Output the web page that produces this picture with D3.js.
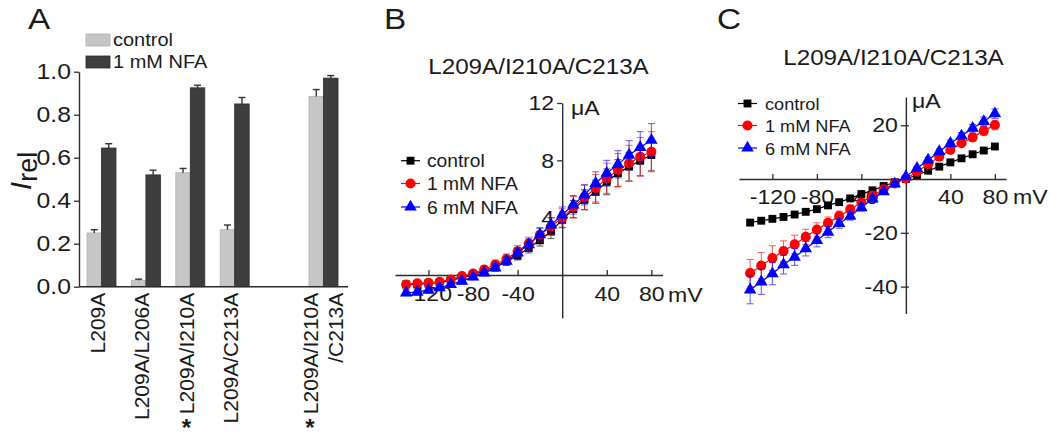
<!DOCTYPE html>
<html><head><meta charset="utf-8">
<script src="https://cdn.jsdelivr.net/npm/d3@7"></script>
<style>
body{margin:0;background:#fff}
svg{display:block}
text{font-family:"Liberation Sans",Arial,Helvetica,sans-serif;fill:#1a1a1a}
</style>
</head><body>
<svg id="chart" width="1050" height="441"></svg>
<script>
// ---------- Panel A data ----------
const mutants = ["L209A", "L209A/L206A", "L209A/I210A", "L209A/C213A", "L209A/I210A/C213A"];
const mutantLabels = [["L209A"], ["L209A/L206A"], ["L209A/I210A"], ["L209A/C213A"], ["L209A/I210A", "/C213A"]];
const significant = [false, false, true, false, true];
const barSeries = ["control", "1 mM NFA"];
const controlRel = [0.25, 0.03, 0.53, 0.265, 0.885];
const controlErr = [0.015, 0.005, 0.02, 0.022, 0.032];
const nfaRel = [0.645, 0.52, 0.925, 0.85, 0.97];
const nfaErr = [0.02, 0.022, 0.012, 0.03, 0.012];
const relTicks = [0.0, 0.2, 0.4, 0.6, 0.8, 1.0];

// ---------- Panels B, C data ----------
const voltages = [-140, -130, -120, -110, -100, -90, -80, -70, -60, -50, -40, -30, -20, -10, 0, 10, 20, 30, 40, 50, 60, 70, 80];
const ivSeries = ["control", "1 mM NFA", "6 mM NFA"];
const mvTicks = [-120, -80, -40, 40, 80];
const title = "L209A/I210A/C213A";

const ctrlB  = [-0.66, -0.66, -0.59, -0.54, -0.36, -0.2, 0.03, 0.26, 0.61, 0.96, 1.35, 1.89, 2.42, 3.04, 3.85, 4.6, 5.24, 5.8, 6.5, 7.1, 7.56, 7.97, 8.37];
const nfa1B  = [-0.66, -0.58, -0.54, -0.47, -0.31, -0.08, 0.1, 0.38, 0.73, 1.12, 1.65, 2.19, 2.81, 3.39, 3.97, 4.73, 5.43, 6.05, 6.75, 7.33, 7.8, 8.25, 8.6];
const nfa6B  = [-1.24, -1.19, -1.06, -0.89, -0.66, -0.43, -0.13, 0.15, 0.5, 0.96, 1.54, 2.12, 2.81, 3.5, 4.2, 4.9, 5.59, 6.4, 7.1, 7.72, 8.37, 8.9, 9.41];
const ctrlBErr = [0.15, 0.15, 0.15, 0.15, 0.15, 0.15, 0.15, 0.2, 0.2, 0.25, 0.3, 0.35, 0.4, 0.5, 0.55, 0.6, 0.7, 0.8, 0.9, 0.95, 1.0, 1.05, 1.1];
const nfa1BErr = [0.2, 0.2, 0.2, 0.2, 0.2, 0.2, 0.2, 0.25, 0.3, 0.35, 0.4, 0.45, 0.5, 0.6, 0.65, 0.75, 0.85, 0.95, 1.05, 1.15, 1.25, 1.35, 1.4];
const nfa6BErr = [0.2, 0.2, 0.2, 0.2, 0.2, 0.2, 0.2, 0.2, 0.25, 0.3, 0.35, 0.4, 0.45, 0.5, 0.55, 0.65, 0.7, 0.8, 0.9, 0.95, 1.0, 1.1, 1.15];
const yTicksB = [4, 8, 12];

const ctrlC  = [-16.2, -15.5, -14.8, -14.1, -13.2, -12.2, -11.2, -9.8, -8.6, -7.2, -5.6, -4.2, -2.6, -1.2, 0, 1.5, 3.1, 4.6, 6.2, 7.7, 9.2, 10.6, 12.1];
const nfa1C  = [-35, -32.2, -29.4, -26.8, -24.3, -21.5, -18.8, -16.3, -13.8, -11.3, -8.7, -6.1, -3.8, -1.6, 0.2, 2.7, 5.5, 8.3, 10.8, 13.3, 15.5, 17.9, 20.1];
const nfa6C  = [-41.2, -38.2, -35.2, -31.8, -29, -25.9, -22.8, -19.7, -16.5, -13.8, -10.6, -7.4, -4.7, -1.8, 0.9, 4.0, 7.1, 10.2, 13.3, 16.0, 18.9, 21.4, 24.3];
const ctrlCErr = [0.6, 0.6, 0.6, 0.5, 0.5, 0.5, 0.5, 0.4, 0.4, 0.4, 0.4, 0.3, 0.3, 0.3, 0.3, 0.3, 0.3, 0.4, 0.4, 0.4, 0.5, 0.5, 0.6];
const nfa1CErr = [5.1, 4.9, 4.6, 3.8, 3.4, 2.8, 2.5, 2.2, 1.9, 1.6, 1.3, 1.0, 0.8, 0.6, 0.4, 0.6, 0.8, 1.0, 1.1, 1.2, 1.4, 1.6, 1.8];
const nfa6CErr = [5.2, 4.7, 4.1, 3.5, 3.1, 2.7, 2.4, 2.1, 1.8, 1.5, 1.3, 1.0, 0.8, 0.6, 0.5, 0.7, 0.9, 1.0, 1.2, 1.3, 1.4, 1.6, 1.75];
const yTicksC = [-40, -20, 20];

// ---------- styles ----------
const SX = 1.1;
const barColors = {"control": "#c6c6c6", "1 mM NFA": "#3e3e3e"};
const barStroke = {"control": "#b0b0b0", "1 mM NFA": "#2a2a2a"};
const ivColors = {"control": "#000000", "1 mM NFA": "#ff0000", "6 mM NFA": "#0000ff"};
const ivSymbols = {"control": d3.symbolSquare, "1 mM NFA": d3.symbolCircle, "6 mM NFA": d3.symbolTriangle};
const ivSizes = {"control": 62, "1 mM NFA": 80, "6 mM NFA": 68};
const axisColor = "#2b2b2b";

const svg = d3.select("#chart");

function txt(g, x, y, s, size, anchor = "start", sx = SX) {
  return g.append("text")
    .attr("transform", `translate(${x},${y}) scale(${sx},1)`)
    .attr("font-size", size)
    .attr("text-anchor", anchor)
    .text(s);
}
function styleAxis(ag, size) {
  ag.attr("font-family", null).attr("font-size", null).attr("color", axisColor);
  ag.select(".domain").attr("stroke-width", 1.4);
  ag.selectAll(".tick line").attr("stroke-width", 1.3);
  ag.selectAll(".tick text").attr("font-size", size).attr("fill", "#1a1a1a").each(function () {
    const t = d3.select(this);
    const x = +t.attr("x") || 0, y = +t.attr("y") || 0;
    t.attr("x", 0).attr("y", 0).attr("transform", `translate(${x},${y}) scale(${SX},1)`);
  });
}

// ================= Panel A =================
const gA = svg.append("g");
txt(gA, 28, 29, "A", 29, "start", 1.15);

const slots = [...mutants.slice(0, 4), "__gap__", mutants[4]];
const xA = d3.scaleBand().domain(slots).range([87, 338]).paddingInner(0.347).paddingOuter(0);
const xSub = d3.scaleBand().domain(barSeries).range([0, xA.bandwidth()]);
const yA = d3.scaleLinear().domain([0, 1]).range([286.7, 71.7]);
const axLeftX = 79;

// legend
const legA = [[barSeries[0], 46], [barSeries[1], 68]];
legA.forEach(([s, yb]) => {
  gA.append("rect").attr("x", 86).attr("y", yb - 12).attr("width", 24).attr("height", 12)
    .attr("fill", barColors[s]).attr("stroke", barStroke[s]).attr("stroke-width", 0.8);
  txt(gA, 113, yb, s, 18.5, "start", 1.08);
});

// y axis
const ayA = gA.append("g").attr("transform", `translate(${axLeftX},0)`)
  .call(d3.axisLeft(yA).tickValues(relTicks).tickFormat(d3.format(".1f")).tickSize(5).tickSizeOuter(0).tickPadding(3));
styleAxis(ayA, 22.5);

// bars
const barData = [];
mutants.forEach((m, i) => {
  barData.push({m, s: barSeries[0], v: controlRel[i], e: controlErr[i]});
  barData.push({m, s: barSeries[1], v: nfaRel[i], e: nfaErr[i]});
});
gA.selectAll("rect.bar").data(barData).enter().append("rect").attr("class", "bar")
  .attr("x", d => xA(d.m) + xSub(d.s))
  .attr("y", d => yA(d.v))
  .attr("width", xSub.bandwidth())
  .attr("height", d => yA(0) - yA(d.v))
  .attr("fill", d => barColors[d.s])
  .attr("stroke", d => barStroke[d.s]).attr("stroke-width", 0.8);
// error bars (upper only)
const eA = gA.selectAll("g.err").data(barData).enter().append("g").attr("class", "err")
  .attr("stroke", "#333").attr("stroke-width", 1.4);
eA.append("line")
  .attr("x1", d => xA(d.m) + xSub(d.s) + xSub.bandwidth() / 2)
  .attr("x2", d => xA(d.m) + xSub(d.s) + xSub.bandwidth() / 2)
  .attr("y1", d => yA(d.v)).attr("y2", d => yA(d.v + d.e));
eA.append("line")
  .attr("x1", d => xA(d.m) + xSub(d.s) + xSub.bandwidth() / 2 - 3.5)
  .attr("x2", d => xA(d.m) + xSub(d.s) + xSub.bandwidth() / 2 + 3.5)
  .attr("y1", d => yA(d.v + d.e)).attr("y2", d => yA(d.v + d.e));

// x baseline
gA.append("line").attr("x1", axLeftX).attr("x2", xA.range()[1] + 10)
  .attr("y1", yA(0)).attr("y2", yA(0)).attr("stroke", axisColor).attr("stroke-width", 1.4);

// rotated category labels
mutants.forEach((m, i) => {
  const cx = xA(m) + xA.bandwidth() / 2;
  const lines = mutantLabels[i];
  const n = lines.length;
  lines.forEach((ln, j) => {
    const bx = cx + 3.5 + (j - (n - 1) / 2) * 25 + (n - 1) * 3;
    gA.append("text").attr("transform", `translate(${bx},${yA(0) + 6}) rotate(-90)`)
      .attr("font-size", 21).attr("text-anchor", "end").text(ln);
  });
  if (significant[i]) {
    const bx = cx + 3.5 + (0 - (n - 1) / 2) * 25 + (n - 1) * 3;
    gA.append("text").attr("x", bx - 7.5).attr("y", 436).attr("font-size", 24)
      .attr("font-weight", "bold").attr("text-anchor", "middle").text("*");
  }
});

// y label I_rel
const yl = gA.append("text").attr("transform", "translate(31,171) rotate(-90)").attr("text-anchor", "middle");
yl.append("tspan").attr("font-size", 30).attr("font-style", "italic").text("I");
yl.append("tspan").attr("font-size", 27).attr("dy", 6).text("rel");

// ================= IV panels =================
function ivPanel(cfg) {
  const g = svg.append("g");
  txt(g, cfg.letterX, 29, cfg.letter, 29, "start", 1.15);
  txt(g, cfg.titleX, cfg.titleY, title, 22, "middle");
  const x = d3.scaleLinear().domain(cfg.xDom).range(cfg.xRange);
  const y = d3.scaleLinear().domain(cfg.yDom).range(cfg.yRange);

  const ax = g.append("g").attr("transform", `translate(0,${y(0)})`)
    .call(d3.axisBottom(x).tickValues(mvTicks).tickFormat(d3.format("d")).tickSize(-5).tickSizeOuter(0).tickPadding(cfg.xPad));
  styleAxis(ax, 21);
  ax.selectAll(".tick text").each(function () {
    const t = d3.select(this); t.text(t.text().replace("−", "-"));
  });
  const ay = g.append("g").attr("transform", `translate(${x(0)},0)`)
    .call(d3.axisLeft(y).tickValues(cfg.yTicks).tickFormat(d3.format("d")).tickSize(5).tickSizeOuter(0).tickPadding(3));
  styleAxis(ay, 21);
  ay.selectAll(".tick text").each(function () {
    const t = d3.select(this); t.text(t.text().replace("−", "-"));
  });
  ay.selectAll(".tick line").attr("x2", -5).attr("x1", cfg.crossTick ? 3 : 0);

  txt(g, cfg.uaX, cfg.uaY, "\u03bcA", 21);
  txt(g, cfg.mvX, y(0) + cfg.xPad + 15, "mV", 21);

  // series
  cfg.series.forEach((s, k) => {
    const name = ivSeries[k];
    const col = ivColors[name];
    const pts = voltages.map((v, i) => ({v, m: s.vals[i], e: s.err[i]}));
    const sg = g.append("g");
    // error bars
    const eg = sg.append("g").attr("stroke", col).attr("stroke-width", 1).attr("opacity", 0.65);
    pts.forEach(p => {
      const px = x(p.v);
      eg.append("line").attr("x1", px).attr("x2", px).attr("y1", y(p.m - p.e)).attr("y2", y(p.m + p.e));
      [p.m - p.e, p.m + p.e].forEach(yy => eg.append("line")
        .attr("x1", px - 3.5).attr("x2", px + 3.5).attr("y1", y(yy)).attr("y2", y(yy)));
    });
    sg.append("path").datum(pts)
      .attr("d", d3.line().x(p => x(p.v)).y(p => y(p.m)))
      .attr("fill", "none").attr("stroke", col).attr("stroke-width", 1.2);
    sg.selectAll("path.pt").data(pts).enter().append("path").attr("class", "pt")
      .attr("transform", p => `translate(${x(p.v)},${y(p.m)})`)
      .attr("d", d3.symbol().type(ivSymbols[name]).size(ivSizes[name]))
      .attr("fill", col);
  });

  // legend
  ivSeries.forEach((name, k) => {
    const ly = cfg.legY[k];
    const col = ivColors[name];
    g.append("line").attr("x1", cfg.legX).attr("x2", cfg.legX + 19).attr("y1", ly).attr("y2", ly)
      .attr("stroke", col).attr("stroke-width", 1.2);
    g.append("path").attr("transform", `translate(${cfg.legX + 9.5},${ly})`)
      .attr("d", d3.symbol().type(ivSymbols[name]).size(ivSizes[name])).attr("fill", col);
    txt(g, cfg.legTextX, ly + 6.5, name, cfg.legSize);
  });
}

ivPanel({
  letter: "B", letterX: 384, titleX: 538.5, titleY: 74,
  xDom: [-150, 90], xRange: [395, 662.5],
  yDom: [-3, 12], yRange: [318, 103], yTicks: yTicksB, xPad: 11.5, crossTick: false,
  uaX: 571, uaY: 115, mvX: 668,
  series: [{vals: ctrlB, err: ctrlBErr}, {vals: nfa1B, err: nfa1BErr}, {vals: nfa6B, err: nfa6BErr}],
  legX: 401, legY: [160.7, 183.5, 207], legTextX: 427, legSize: 17.5
});

ivPanel({
  letter: "C", letterX: 717, titleX: 893.5, titleY: 65,
  xDom: [-150, 90], xRange: [739, 1006],
  yDom: [-50, 30.5], yRange: [313.5, 97], yTicks: yTicksC, xPad: 10, crossTick: true,
  uaX: 912, uaY: 108, mvX: 1013,
  series: [{vals: ctrlC, err: ctrlCErr}, {vals: nfa1C, err: nfa1CErr}, {vals: nfa6C, err: nfa6CErr}],
  legX: 738, legY: [103.5, 125.5, 148], legTextX: 765, legSize: 16.5
});
</script>
</body></html>
